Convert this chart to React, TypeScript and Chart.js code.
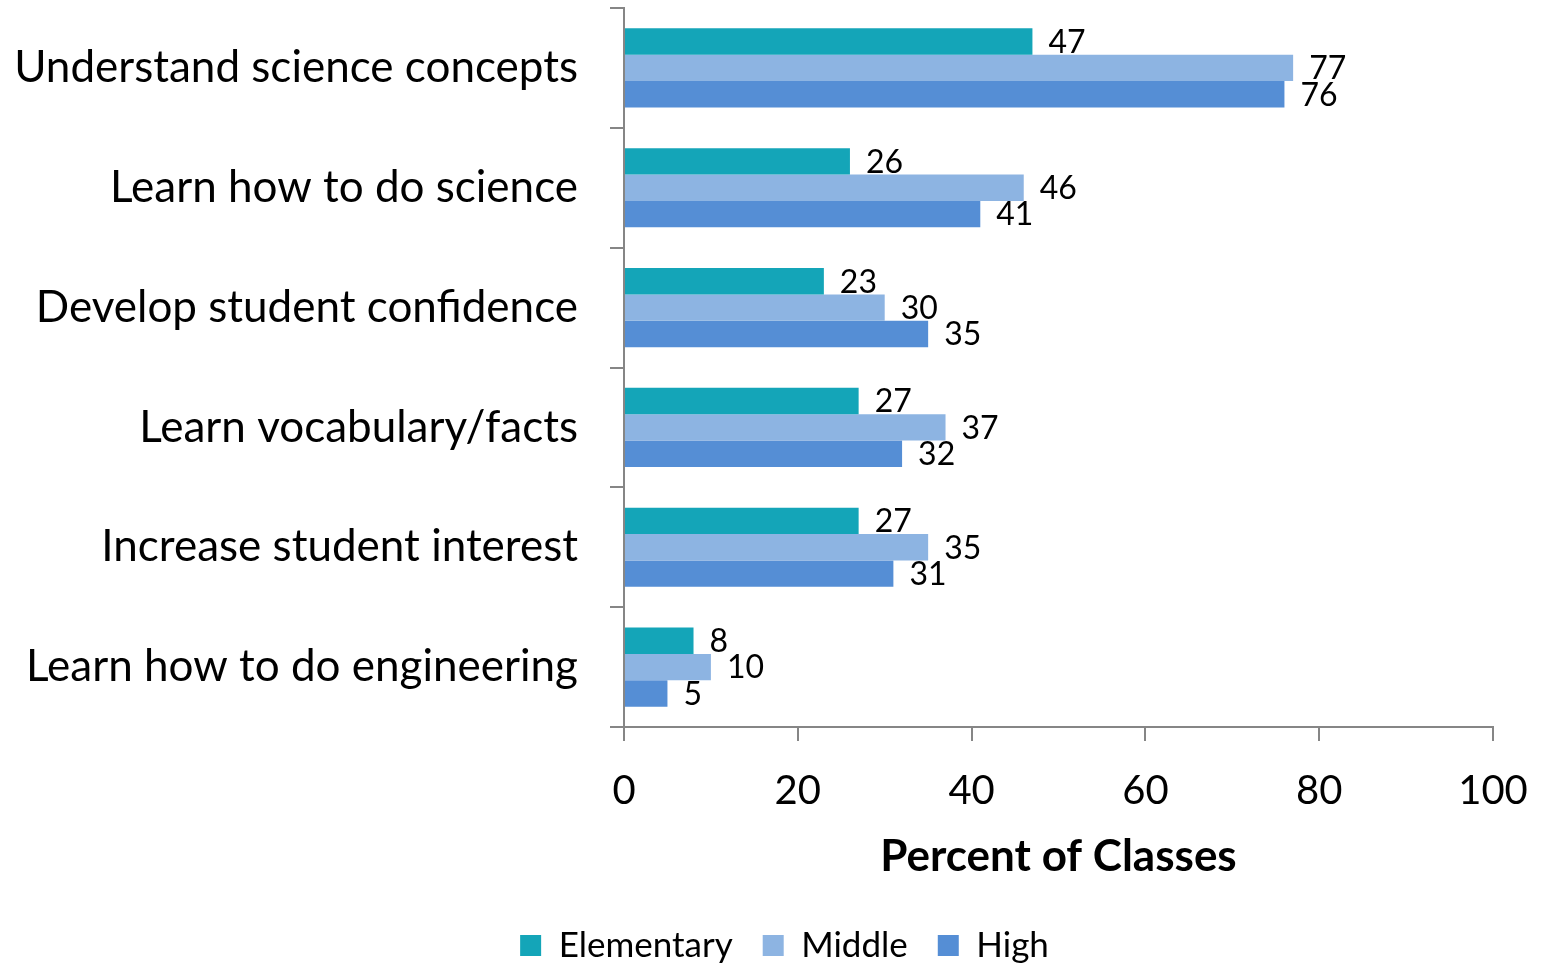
import React, { useEffect, useRef } from "react";
import { Chart, registerables } from "chart.js";

Chart.register(...registerables);

const categories = [
  "Understand science concepts",
  "Learn how to do science",
  "Develop student confidence",
  "Learn vocabulary/facts",
  "Increase student interest",
  "Learn how to do engineering",
];
const elementary = [47, 26, 23, 27, 27, 8];
const middle = [77, 46, 30, 37, 35, 10];
const high = [76, 41, 35, 32, 31, 5];
const seriesNames = ["Elementary", "Middle", "High"];
const xTicks = [0, 20, 40, 60, 80, 100];

const FONT = "Lato, 'Open Sans', sans-serif";

const dataLabelPlugin = {
  id: "dataLabels",
  afterDatasetsDraw(chart: any) {
    const ctx = chart.ctx;
    ctx.save();
    ctx.font = `32px ${FONT}`;
    ctx.fillStyle = "#000";
    ctx.textAlign = "left";
    ctx.textBaseline = "middle";
    chart.data.datasets.forEach((ds: any, di: number) => {
      const meta = chart.getDatasetMeta(di);
      meta.data.forEach((el: any, i: number) => {
        ctx.fillText(String(ds.data[i]), el.x + 16, el.y + 1);
      });
    });
    ctx.restore();
  },
};

const legendShiftPlugin = {
  id: "legendShift",
  afterLayout(chart: any) {
    if (chart.legend) {
      chart.legend.right += 76;
    }
  },
};

export default function App() {
  const ref = useRef<HTMLCanvasElement>(null);
  useEffect(() => {
    document.body.style.margin = "0";
    const chart = new Chart(ref.current!, {
      type: "bar",
      data: {
        labels: categories,
        datasets: [
          { label: seriesNames[0], data: elementary, backgroundColor: "#14A5B8" },
          { label: seriesNames[1], data: middle, backgroundColor: "#8DB4E2" },
          { label: seriesNames[2], data: high, backgroundColor: "#558ED5" },
        ],
      },
      options: {
        indexAxis: "y",
        animation: false,
        responsive: false,
        maintainAspectRatio: false,
        datasets: { bar: { categoryPercentage: 0.66, barPercentage: 1 } },
        layout: { padding: { top: 8, right: 53, left: 0, bottom: -6 } },
        plugins: {
          tooltip: { enabled: false },
          legend: {
            position: "bottom",
            labels: {
              font: { family: FONT, size: 35 },
              color: "#000",
              boxWidth: 21,
              boxHeight: 21,
              padding: 30,
            },
          },
        },
        scales: {
          y: {
            afterFit: (s: any) => {
              s.width = 624;
              s.paddingTop = 0;
              s.paddingBottom = 0;
            },
            grid: {
              display: true,
              drawOnChartArea: false,
              drawTicks: true,
              tickLength: 14,
              color: "#868686",
              lineWidth: 2,
              offset: true,
            },
            border: { display: true, color: "#868686", width: 2 },
            ticks: {
              font: { family: FONT, size: 44 },
              color: "#000",
              padding: 32,
            },
          },
          x: {
            min: 0,
            max: 100,
            afterBuildTicks: (s: any) => {
              s.ticks = xTicks.map((v) => ({ value: v }));
            },
            afterFit: (s: any) => {
              s.height = 171;
              s.paddingLeft = 0;
              s.paddingRight = 0;
            },
            grid: {
              display: true,
              drawOnChartArea: false,
              drawTicks: true,
              tickLength: 14,
              color: "#868686",
              lineWidth: 2,
            },
            border: { display: true, color: "#868686", width: 2 },
            ticks: {
              font: { family: FONT, size: 40 },
              color: "#000",
              padding: 26,
              maxRotation: 0,
            },
            title: {
              display: true,
              text: "Percent of Classes",
              font: { family: FONT, size: 44, weight: "bold" },
              color: "#000",
              padding: { top: 0, bottom: 15 },
            },
          },
        },
      },
      plugins: [dataLabelPlugin, legendShiftPlugin],
    });
    return () => chart.destroy();
  }, []);
  return (
    <div style={{ position: "fixed", left: 0, top: 0, width: 1546, height: 967 }}>
      <canvas ref={ref} width={1546} height={967} />
    </div>
  );
}
